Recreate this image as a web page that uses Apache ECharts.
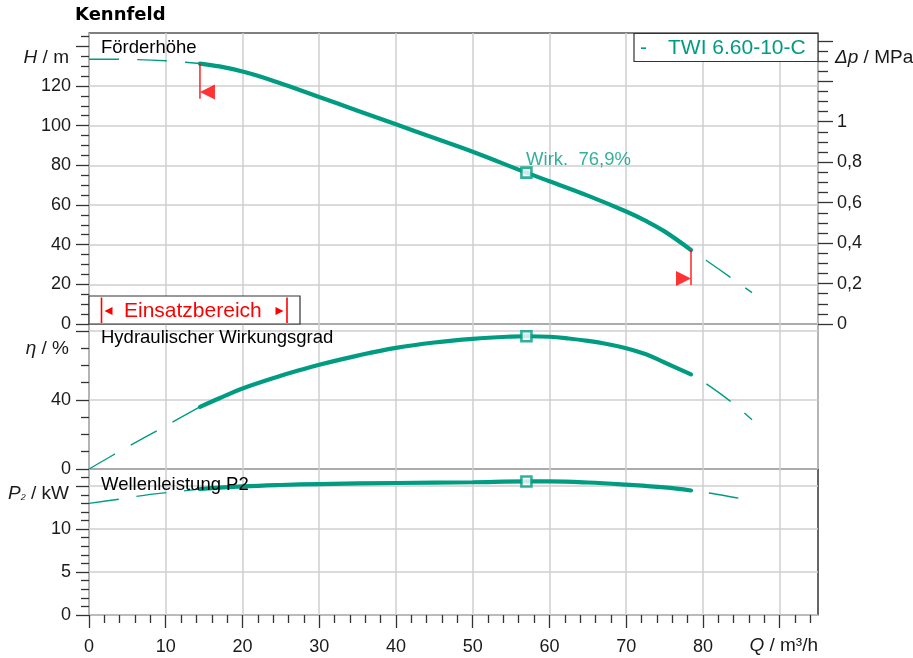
<!DOCTYPE html>
<html>
<head>
<meta charset="utf-8">
<script src="https://cdn.jsdelivr.net/npm/echarts@6/dist/echarts.min.js"></script>
<style>html,body{margin:0;padding:0;background:#fff}#c{width:913px;height:658px}</style>
</head>
<body>
<div id="c"></div>
<script>
// ---- data (Q in m³/h) ----
const xTicks = [0,10,20,30,40,50,60,70,80];
const hLeft  = [[0,133.5],[5,133.4],[10,132.7],[14.46,131.3]];
const hMain  = [[14.46,131.3],[17,129.85],[20,127.3],[23,123.9],[26,119.95],[30,114.45],[35,107.55],[40,100.65],[45,93.75],[50,86.85],[57,76.3],[60,71.95],[65,64.7],[70,56.7],[72.5,52.1],[75,46.7],[78.45,37.3]];
const hRight = [[78.45,37.3],[80.5,31.9],[83.6,23.5],[86.4,15.8]];
const etaLeft  = [[0,0],[5,12.8],[10,25],[14.46,36]];
const etaMain  = [[14.46,36],[17,41],[20,46.6],[25,54],[27.5,57.3],[30,60.4],[35,65.7],[40,70.2],[45,73.3],[50,75.4],[55,76.7],[57,76.9],[60,76.6],[62.5,75.6],[65,74.2],[67.5,72.4],[70,70],[72.5,66.6],[75,61.7],[78.45,54.8]];
const etaRight = [[78.45,54.8],[80.5,49.2],[83.6,39.2],[86.4,28.5]];
const p2Left  = [[0,13],[4,13.5],[8,14.05],[12,14.42],[14.46,14.67]];
const p2Main  = [[14.46,14.67],[20,14.97],[25,15.14],[30,15.25],[40,15.37],[50,15.46],[57,15.55],[60,15.55],[65,15.43],[70,15.18],[75,14.86],[78.45,14.5]];
const p2Right = [[78.45,14.5],[80.8,14.2],[84.7,13.6],[86.5,13.34]];
const bep = {q:57, h:76.3, eta:76.9, p2:15.55};
const opMin = {q:14.46, hTop:131.3, hBot:113.6, hArrow:117};
const opMax = {q:78.45, hTop:37.3, hBot:19.7, hArrow:23};
const hLabels = [0,20,40,60,80,100,120];
const hTicks = [0,20,40,60,80,100,120,140];
const dpLabels = [0,0.2,0.4,0.6,0.8,1];
const dpTicks = [0,0.2,0.4,0.6,0.8,1,1.2,1.4];
const etaLabels = [0,40];
const etaTicks = [0,40,80];
const p2Labels = [0,5,10];
const p2Ticks = [0,5,10,15];

const H_MAX = 146.7, ETA_MAX = 84, P2_MAX = 17, Q_MAX = 95;
const MPA_PER_M = 1/101.97;

const TEAL = '#009c82';
const RED = '#ff0000';
const FONT = '"Liberation Sans", Arial, sans-serif';
const GRIDC = '#cfcfcf';

function range(a,b,s,skip){const r=[];for(let v=a;v<=b+1e-9;v+=s){const x=+v.toFixed(3);if(!skip(x))r.push(x);}return r;}
const xMinor = range(0,94,2,v=>v%10===0);
const hMinor = range(0,145,5,v=>v%20===0);
const dpMinor = range(0,1.4,0.05,v=>Math.abs(v/0.2-Math.round(v/0.2))<1e-6);
const etaMinor = range(0,80,10,v=>v%40===0);
const p2Minor = range(0,16,1,v=>v%5===0);

const lbl = {color:'#1a1a1a', fontSize:18, fontFamily:FONT};
function majorAxisY(grid, min, max, interval, labels, ticks, pos, fmt, split, margin, tlen){
  return {type:'value', gridIndex:grid, position:pos, min, max, interval,
    axisLine:{show:false},
    axisTick:{show:true, length:tlen, customValues:ticks, lineStyle:{color:'#333', width:1.3}},
    axisLabel:Object.assign({show:true, margin, customValues:labels, formatter:fmt||(v=>String(v))}, lbl),
    splitLine:split, minorTick:{show:false}};
}
function minorAxisY(grid, min, max, interval, ticks, pos, tlen){
  return {type:'value', gridIndex:grid, position:pos, min, max, interval,
    axisLine:{show:false},
    axisTick:{show:true, length:tlen, customValues:ticks, lineStyle:{color:'#333', width:1.3}},
    axisLabel:{show:false}, splitLine:{show:false}};
}
const hSplitColors = [GRIDC,GRIDC,GRIDC,GRIDC,GRIDC,GRIDC,GRIDC,'rgba(0,0,0,0)',GRIDC];

const xCommon = {type:'value', min:0, max:Q_MAX, interval:10};
const xAxis = [
  Object.assign({}, xCommon, {gridIndex:0, axisLine:{show:false}, axisTick:{show:false}, axisLabel:{show:false}, splitLine:{show:true, lineStyle:{color:GRIDC, width:1.5}}}),
  Object.assign({}, xCommon, {gridIndex:1, axisLine:{show:false}, axisTick:{show:false}, axisLabel:{show:false}, splitLine:{show:true, lineStyle:{color:GRIDC, width:1.5}}}),
  Object.assign({}, xCommon, {gridIndex:2, position:'bottom', axisLine:{show:false},
    axisTick:{show:true, length:13, customValues:[0,10,20,30,40,50,60,70,80,90], lineStyle:{color:'#333', width:1.3}},
    axisLabel:Object.assign({show:true, margin:23, customValues:xTicks}, lbl),
    splitLine:{show:true, lineStyle:{color:GRIDC, width:1.5}}}),
  Object.assign({}, xCommon, {gridIndex:2, position:'bottom', axisLine:{show:false},
    axisTick:{show:true, length:8, customValues:xMinor, lineStyle:{color:'#333', width:1.3}},
    axisLabel:{show:false}, splitLine:{show:false}})
];
const yAxis = [
  majorAxisY(0,0,H_MAX,20,hLabels,hTicks,'left',null,{show:true,lineStyle:{color:hSplitColors,width:1.5}},18,13),
  minorAxisY(0,0,H_MAX,20,hMinor,'left',8),
  majorAxisY(0,0,H_MAX*MPA_PER_M,0.2,dpLabels,dpTicks,'right',v=>String(+(+v).toFixed(2)).replace('.',','),{show:false},19,15),
  minorAxisY(0,0,H_MAX*MPA_PER_M,0.2,dpMinor,'right',10),
  majorAxisY(1,0,ETA_MAX,40,etaLabels,etaTicks,'left',null,{show:true,lineStyle:{color:GRIDC,width:1.5}},18,13),
  minorAxisY(1,0,ETA_MAX,40,etaMinor,'left',8),
  majorAxisY(2,0,P2_MAX,5,p2Labels,p2Ticks,'left',null,{show:true,lineStyle:{color:GRIDC,width:1.5}},18,13),
  minorAxisY(2,0,P2_MAX,5,p2Minor,'left',8)
];

function dashed(data, xi, yi, offset){
  return {type:'line', xAxisIndex:xi, yAxisIndex:yi, data, symbol:'none', smooth:0.35, silent:true, z:3,
    lineStyle:{color:TEAL, width:1.4, type:[30,18], dashOffset:offset}};
}
function solid(data, xi, yi){
  return {type:'line', xAxisIndex:xi, yAxisIndex:yi, data, symbol:'none', smooth:0.4, silent:true, z:4,
    lineStyle:{color:TEAL, width:4.2, cap:'round'}};
}
function bepPoint(val, xi, yi, label){
  return {type:'scatter', xAxisIndex:xi, yAxisIndex:yi, data:[[bep.q, val]], symbol:'rect', symbolSize:10, silent:true, z:6,
    itemStyle:{color:'#fff', borderColor:TEAL, borderWidth:2.6},
    label: label ? {show:true, formatter:label, position:[6,-6], align:'left', verticalAlign:'middle', color:TEAL, fontSize:18.5, fontFamily:FONT} : {show:false}};
}
const triLeft = 'path://M0,5 L10,0 L10,10 Z';
const triRight = 'path://M10,5 L0,0 L0,10 Z';

const series = [
  dashed(hLeft,0,0,0), solid(hMain,0,0), dashed(hRight,0,0,30),
  bepPoint(bep.h,0,0,'Wirk.  76,9%'),
  {type:'line', xAxisIndex:0, yAxisIndex:0, data:[[opMin.q,opMin.hTop],[opMin.q,opMin.hBot]], symbol:'none', silent:true, z:5, lineStyle:{color:RED,width:1.3}},
  {type:'line', xAxisIndex:0, yAxisIndex:0, data:[[opMax.q,opMax.hTop],[opMax.q,opMax.hBot]], symbol:'none', silent:true, z:5, lineStyle:{color:RED,width:1.3}},
  {type:'scatter', xAxisIndex:0, yAxisIndex:0, data:[[opMin.q,opMin.hArrow]], symbol:triLeft, symbolSize:[15,15], symbolOffset:[7.5,0], silent:true, z:5, itemStyle:{color:RED}},
  {type:'scatter', xAxisIndex:0, yAxisIndex:0, data:[[opMax.q,opMax.hArrow]], symbol:triRight, symbolSize:[15,15], symbolOffset:[-7.5,0], silent:true, z:5, itemStyle:{color:RED}},
  dashed(etaLeft,1,4,0), solid(etaMain,1,4), dashed(etaRight,1,4,30), bepPoint(bep.eta,1,4,null),
  dashed(p2Left,2,6,0), solid(p2Main,2,6), dashed(p2Right,2,6,30), bepPoint(bep.p2,2,6,null)
];

const gridBase = {left:89, right:95, show:true, borderColor:'#000', borderWidth:1.2, backgroundColor:'transparent', containLabel:false, outerBoundsMode:'none'};
const grid = [
  Object.assign({}, gridBase, {top:33, height:291}),
  Object.assign({}, gridBase, {top:324, height:145}),
  Object.assign({}, gridBase, {top:469, height:146})
];

function txt(x,y,text,opts){
  return {type:'text', x, y, z:50, silent:true, style:Object.assign({text, fill:'#000', fontSize:18.5, fontFamily:FONT, align:'left', verticalAlign:'middle'}, opts||{})};
}
function rich(x,y,text,align){
  const base = {fontSize:19, fontFamily:FONT, fill:'#1a1a1a'};
  return {type:'text', x, y, z:50, silent:true, style:Object.assign({text, align, verticalAlign:'middle',
    rich:{i:Object.assign({fontStyle:'italic'},base), n:Object.assign({},base), s:Object.assign({},base,{fontSize:13, fontStyle:'italic'})}}, base)};
}

const graphic = [
  txt(75,15,'Kennfeld',{fontFamily:'"DejaVu Sans", Verdana, sans-serif', fontWeight:'bold', fontSize:18}),
  txt(101,48,'Förderhöhe'),
  txt(101,338,'Hydraulischer Wirkungsgrad'),
  txt(101,484.5,'Wellenleistung P2'),
  rich(69,57.5,'{i|H}{n| / m}','right'),
  rich(69,349,'{i|η}{n| / %}','right'),
  rich(69,494,'{i|P}{s|₂}{n| / kW}','right'),
  rich(835,58,'{i|Δp}{n| / MPa}','left'),
  rich(818,646,'{i|Q}{n| / m³/h}','right'),
  // legend box
  {type:'rect', z:40, silent:true, shape:{x:634, y:33.5, width:184, height:28}, style:{fill:'#fff', stroke:'#333', lineWidth:1.2}},
  txt(640,48,'-',{fill:TEAL, fontSize:21}),
  txt(668,48,'TWI 6.60-10-C',{fill:TEAL, fontSize:21}),
  // Einsatzbereich box
  {type:'rect', z:40, silent:true, shape:{x:89, y:296, width:211, height:28}, style:{fill:'#fff', stroke:'#333', lineWidth:1.2}},
  {type:'line', z:45, silent:true, shape:{x1:101.5, y1:297.5, x2:101.5, y2:323}, style:{stroke:RED, lineWidth:1.6}},
  {type:'line', z:45, silent:true, shape:{x1:287, y1:297.5, x2:287, y2:323}, style:{stroke:RED, lineWidth:1.6}},
  {type:'polygon', z:45, silent:true, shape:{points:[[104.5,311],[112.5,307],[112.5,315]]}, style:{fill:RED}},
  {type:'polygon', z:45, silent:true, shape:{points:[[283.5,311],[275.5,307],[275.5,315]]}, style:{fill:RED}},
  txt(124,311,'Einsatzbereich',{fill:RED, fontSize:21})
];

const chart = echarts.init(document.getElementById('c'), null, {renderer:'canvas'});
chart.setOption({animation:false, grid, xAxis, yAxis, series, graphic});
</script>
</body>
</html>
